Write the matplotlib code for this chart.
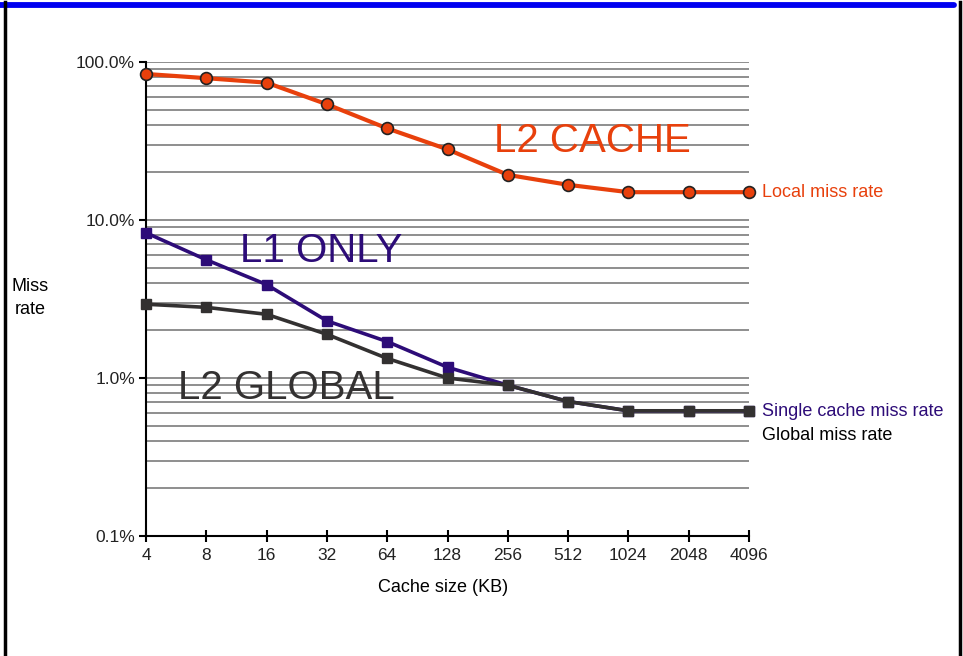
import matplotlib
matplotlib.use("Agg")
import matplotlib.pyplot as plt
from matplotlib.lines import Line2D
from matplotlib.ticker import FixedLocator, LogLocator

plt.rcParams['font.family'] = ['Liberation Sans', 'DejaVu Sans']

cache_sizes = ["4", "8", "16", "32", "64", "128", "256", "512", "1024", "2048", "4096"]
local_miss = [84, 79, 74, 54, 38, 28, 19.3, 16.7, 15, 15, 15]
single_miss = [8.3, 5.6, 3.9, 2.3, 1.7, 1.17, 0.9, 0.71, 0.62, 0.62, 0.62]
global_miss = [2.93, 2.8, 2.53, 1.89, 1.33, 1.0, 0.9, 0.71, 0.62, 0.62, 0.62]
y_ticks = [0.1, 1, 10, 100]
y_tick_labels = ["0.1%", "1.0%", "10.0%", "100.0%"]

W, H = 963, 656
fig = plt.figure(figsize=(W / 100, H / 100), dpi=100)
fig.patch.set_facecolor("white")

ax = fig.add_axes([146 / W, 1 - 536 / H, (749 - 146) / W, (536 - 62) / H])
ax.set_yscale("log")
ax.set_ylim(0.1, 100)
ax.set_xlim(0, len(cache_sizes) - 1)

xs = list(range(len(cache_sizes)))

orange = "#E8400C"
purple = "#2D0C78"
dark = "#333131"
gridc = "#8E8E8E"

ax.yaxis.set_major_locator(FixedLocator(y_ticks))
ax.yaxis.set_minor_locator(LogLocator(base=10, subs=range(2, 10)))
ax.grid(True, which="major", axis="y", color=gridc, lw=1.4)
ax.grid(True, which="minor", axis="y", color=gridc, lw=1.4)
ax.set_axisbelow(True)

ax.plot(xs, single_miss, color=purple, lw=2.6, marker="s", ms=7,
        mfc=purple, mec=purple, zorder=3, clip_on=False)
ax.plot(xs, global_miss, color=dark, lw=2.6, marker="s", ms=7,
        mfc=dark, mec=dark, zorder=4, clip_on=False)
ax.plot(xs, local_miss, color=orange, lw=3, marker="o", ms=8.5,
        mfc=orange, mec="#222222", mew=1.2, zorder=5, clip_on=False)

ax.set_yticks(y_ticks)
ax.set_yticklabels(y_tick_labels)
ax.set_xticks(xs)
ax.set_xticklabels(cache_sizes)
ax.tick_params(axis="y", which="minor", length=0)
ax.tick_params(axis="y", which="major", direction="out", length=5, width=1.5,
               labelsize=12.5, colors="black", pad=3)
ax.tick_params(axis="x", direction="inout", length=8, width=1.5,
               labelsize=12.5, pad=5)
for lbl in ax.get_xticklabels() + ax.get_yticklabels():
    lbl.set_color("#222222")

for s in ["top", "right"]:
    ax.spines[s].set_visible(False)
ax.spines["left"].set_linewidth(1.5)
ax.spines["bottom"].set_linewidth(1.5)

# big annotation labels
ax.text(7.41, 31.6, "L2 CACHE", color=orange, fontsize=29, ha="center", va="center")
ax.text(2.90, 6.35, "L1 ONLY", color=purple, fontsize=29, ha="center", va="center")
ax.text(2.32, 0.86, "L2 GLOBAL", color=dark, fontsize=29, ha="center", va="center")

# series labels on right
ax.text(10.22, 15, "Local miss rate", color=orange, fontsize=13, ha="left",
        va="center", clip_on=False)
ax.text(10.22, 0.615, "Single cache miss rate", color=purple, fontsize=13,
        ha="left", va="center", clip_on=False)
ax.text(10.22, 0.433, "Global miss rate", color="black", fontsize=13,
        ha="left", va="center", clip_on=False)

fig.text(30 / W, 1 - 298 / H, "Miss\nrate", fontsize=13, ha="center",
         va="center", linespacing=1.45)
fig.text(443 / W, 1 - 587 / H, "Cache size (KB)", fontsize=13, ha="center",
         va="center")

# frame decorations
fig.add_artist(Line2D([0 / W, 954 / W], [1 - 4.5 / H, 1 - 4.5 / H],
                      color="#0000F0", lw=4.2, solid_capstyle="round",
                      transform=fig.transFigure))
fig.add_artist(Line2D([4.5 / W, 4.5 / W], [0, 1 - 2 / H], color="black",
                      lw=2.5, transform=fig.transFigure))
fig.add_artist(Line2D([960 / W, 960 / W], [0, 1 - 2 / H], color="black",
                      lw=2.5, transform=fig.transFigure))

fig.savefig("out.png", dpi=100)
